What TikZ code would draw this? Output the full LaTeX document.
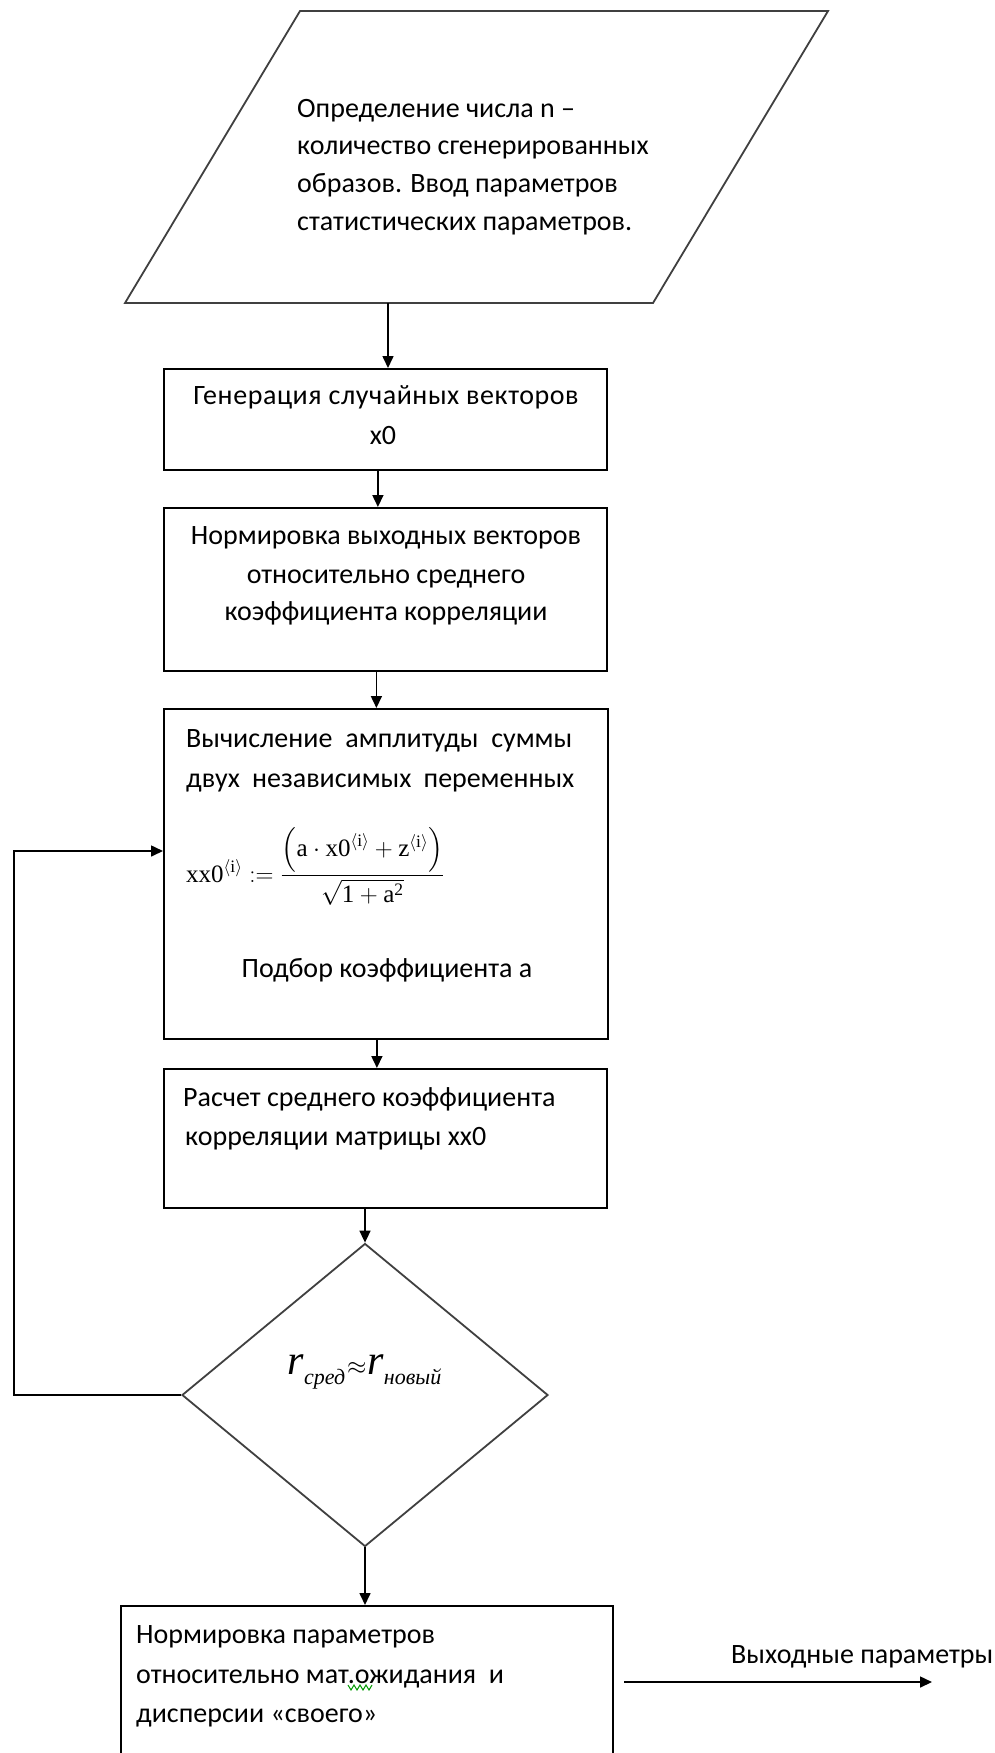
\documentclass[tikz,border=0pt]{standalone}
\usepackage{fontspec}
\usepackage{amsmath}
\setmainfont{Carlito}
\newfontfamily\serifm{Liberation Serif}
\usetikzlibrary{shapes.geometric,arrows.meta,calc}
\begin{document}
\begin{tikzpicture}[x=1pt,y=-1pt,
  box/.style={draw=black,line width=1.8pt,minimum width=443pt,inner sep=0pt,anchor=north west},
  shp/.style={draw=black!75,line width=1.8pt},
  arr/.style={draw=black,line width=1.6pt,-{Triangle[length=12pt,width=11pt]}},
  txt/.style={inner sep=0pt,font=\fontsize{28}{37}\selectfont},
  lt/.style={txt,anchor=base west},
  ct/.style={txt,anchor=base},
]
\useasboundingbox (0,0) rectangle (995,1753);
\clip (0,0) rectangle (995,1753);
\fill[white] (0,0) rectangle (995,1753);

% input parallelogram
\draw[shp] (300,11) -- (828,11) -- (653,303) -- (125,303) -- cycle;
\coordinate (pb) at (388,303);
\node[lt] (p1) at (297,117) {Определение числа n –};
\node[lt] (p2) at (297,154) {количество сгенерированных};
\node[lt] (p3) at (297,192) {образов. Ввод параметров};
\node[lt] (p4) at (297,230) {статистических параметров.};

% boxes
\node[box,minimum height=101pt] (b1) at (163,368) {};
\node[ct] (b1a) at (386,404) {\addfontfeature{LetterSpace=2}Генерация случайных векторов};
\node[ct] (b1b) at (383,444) {x0};

\node[box,minimum height=163pt] (b2) at (163,507) {};
\node[ct] (b2a) at (386,544) {Нормировка выходных векторов};
\node[ct] (b2b) at (386,583) {относительно среднего};
\node[ct] (b2c) at (386,620) {коэффициента корреляции};

\node[box,minimum width=444pt,minimum height=330pt] (b3) at (163,708) {};
\node[lt] (b3a) at (186,747) {\hbox to 386pt{Вычисление\hfill амплитуды\hfill суммы}};
\node[lt] (b3b) at (186,787) {\hbox to 388pt{двух\hfill независимых\hfill переменных}};
\node[inner sep=0pt,anchor=base west,font=\serifm\fontsize{25}{30}\selectfont] (f) at (186,882)
  {$\text{xx0}^{\langle\text{i}\rangle} := \dfrac{\left(\text{a}\cdot\text{x0}^{\langle\text{i}\rangle}+\text{z}^{\langle\text{i}\rangle}\right)}{\sqrt{\text{1}+\text{a}^{\text{2}}}}$};
\node[ct] (b3c) at (387,977) {Подбор коэффициента a};

\node[box,minimum height=139pt] (b4) at (163,1068) {};
\node[lt] (b4a) at (183,1106) {Расчет среднего коэффициента};
\node[lt] (b4b) at (185,1145) {корреляции матрицы xx0};

% decision
\node[diamond,shp,minimum width=366pt,minimum height=303pt,inner sep=0pt] (d) at (365,1395) {};
\node[inner sep=0pt,anchor=base,font=\serifm\itshape] (df) at (364.5,1374)
  {\fontsize{42}{46}\selectfont r\raisebox{-10pt}{\fontsize{22}{24}\selectfont сред}\kern2pt{\fontsize{34}{40}\selectfont$\approx$}\kern1pt r\raisebox{-10pt}{\fontsize{22}{24}\selectfont новый}};

% output box
\node[box,minimum width=492pt,minimum height=220pt] (b5) at (120,1605) {};
\node[lt] (b5a) at (136,1643) {Нормировка параметров};
\node[lt] (b5b) at (136,1683) {относительно мат.ожидания\ \ и};
\node[lt] (b5c) at (136,1722) {дисперсии «своего»};
\draw[green!60!black,line width=1pt] (348,1685) -- (351,1690) -- (354,1685) -- (357,1690) -- (360,1685) -- (363,1690) -- (366,1685) -- (369,1690) -- (372,1685);
\node[lt] (out) at (731,1663) {Выходные параметры};

% connectors
\draw[arr] (pb) -- (pb |- b1.north);
\draw[arr] ([xshift=-7.5pt]b1.south) -- ([xshift=-7.5pt]b1.south |- b2.north);
\draw[arr] ([xshift=-9pt]b2.south) -- ([xshift=-9pt]b2.south |- b3.north);
\draw[arr] ([xshift=-9pt]b3.south) -- ([xshift=-9pt]b3.south |- b4.north);
\draw[arr] (d.north |- b4.south) -- (d.north);
\draw[arr] (d.south) -- (d.south |- b5.north);
\coordinate (loopy) at (163,851);
\draw[arr] (d.west) -| (14,851) -- (loopy);
\coordinate (o1) at (624,1682);
\coordinate (oend) at (932,1682);
\draw[arr] (o1) -- (oend);
\end{tikzpicture}
\end{document}
